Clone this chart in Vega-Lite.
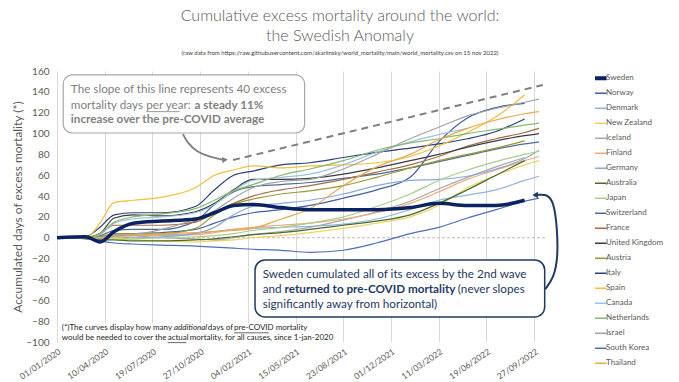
{
"$schema": "https://vega.github.io/schema/vega-lite/v6.json",
"width": 523,
"height": 271,
"padding": {"left": 11, "top": 8, "right": 5, "bottom": 5},
"background": "white",
"config": {"font": "Lato", "view": {"stroke": null}, "axis": {"labelFont": "Lato", "titleFont": "Lato"}, "axisY": {"labelOverlap": false}},
"title": {"text": ["Cumulative excess mortality around the world:", "the Swedish Anomaly"], "subtitle": "(raw data from https://raw.githubusercontent.com/akarlinsky/world_mortality/main/world_mortality.csv on 15 nov 2022)", "font": "Lato", "fontSize": 16, "fontWeight": 300, "color": "#595959", "lineHeight": 20, "subtitleFont": "Lato", "subtitleFontSize": 6, "subtitleColor": "#404040", "subtitlePadding": 6, "anchor": "middle", "frame": "group", "dx": 21.5, "offset": 10},
"datasets": {"mort": [
{"c":"Sweden","d":"2020-01-01","v":0},{"c":"Sweden","d":"2020-03-01","v":1},{"c":"Sweden","d":"2020-03-31","v":-4},{"c":"Sweden","d":"2020-04-30","v":6},{"c":"Sweden","d":"2020-06-09","v":14},{"c":"Sweden","d":"2020-08-08","v":16},{"c":"Sweden","d":"2020-10-17","v":18},{"c":"Sweden","d":"2020-11-26","v":24},{"c":"Sweden","d":"2021-01-05","v":31},{"c":"Sweden","d":"2021-02-14","v":32},{"c":"Sweden","d":"2021-04-15","v":29},{"c":"Sweden","d":"2021-06-14","v":27},{"c":"Sweden","d":"2021-08-23","v":27},{"c":"Sweden","d":"2021-11-01","v":27},{"c":"Sweden","d":"2022-01-10","v":29},{"c":"Sweden","d":"2022-03-11","v":33},{"c":"Sweden","d":"2022-05-10","v":31},{"c":"Sweden","d":"2022-07-09","v":31},{"c":"Sweden","d":"2022-09-07","v":36},
{"c":"Norway","d":"2020-01-01","v":0},{"c":"Norway","d":"2020-03-01","v":0},{"c":"Norway","d":"2020-03-31","v":-1},{"c":"Norway","d":"2020-04-30","v":2},{"c":"Norway","d":"2020-06-09","v":4},{"c":"Norway","d":"2020-08-08","v":5},{"c":"Norway","d":"2020-10-17","v":8},{"c":"Norway","d":"2020-11-26","v":14},{"c":"Norway","d":"2021-01-05","v":20},{"c":"Norway","d":"2021-02-14","v":24},{"c":"Norway","d":"2021-04-15","v":27},{"c":"Norway","d":"2021-06-14","v":31},{"c":"Norway","d":"2021-08-23","v":38},{"c":"Norway","d":"2021-11-01","v":46},{"c":"Norway","d":"2022-01-10","v":58},{"c":"Norway","d":"2022-03-11","v":92},{"c":"Norway","d":"2022-05-10","v":115},{"c":"Norway","d":"2022-07-09","v":125},{"c":"Norway","d":"2022-09-07","v":129},
{"c":"Denmark","d":"2020-01-01","v":0},{"c":"Denmark","d":"2020-03-01","v":0},{"c":"Denmark","d":"2020-03-31","v":1},{"c":"Denmark","d":"2020-04-30","v":2},{"c":"Denmark","d":"2020-06-09","v":2},{"c":"Denmark","d":"2020-08-08","v":3},{"c":"Denmark","d":"2020-10-17","v":4},{"c":"Denmark","d":"2020-11-26","v":6},{"c":"Denmark","d":"2021-01-05","v":8},{"c":"Denmark","d":"2021-02-14","v":9},{"c":"Denmark","d":"2021-04-15","v":10},{"c":"Denmark","d":"2021-06-14","v":11},{"c":"Denmark","d":"2021-08-23","v":13},{"c":"Denmark","d":"2021-11-01","v":18},{"c":"Denmark","d":"2022-01-10","v":27},{"c":"Denmark","d":"2022-03-11","v":36},{"c":"Denmark","d":"2022-05-10","v":41},{"c":"Denmark","d":"2022-07-09","v":46},{"c":"Denmark","d":"2022-09-07","v":55},{"c":"Denmark","d":"2022-10-07","v":59},
{"c":"New Zealand","d":"2020-01-01","v":0},{"c":"New Zealand","d":"2020-03-01","v":1},{"c":"New Zealand","d":"2020-03-31","v":0},{"c":"New Zealand","d":"2020-04-30","v":-1},{"c":"New Zealand","d":"2020-06-09","v":-2},{"c":"New Zealand","d":"2020-08-08","v":-3},{"c":"New Zealand","d":"2020-10-17","v":-4},{"c":"New Zealand","d":"2020-11-26","v":-3},{"c":"New Zealand","d":"2021-01-05","v":-2},{"c":"New Zealand","d":"2021-02-14","v":0},{"c":"New Zealand","d":"2021-04-15","v":2},{"c":"New Zealand","d":"2021-06-14","v":5},{"c":"New Zealand","d":"2021-08-23","v":9},{"c":"New Zealand","d":"2021-11-01","v":14},{"c":"New Zealand","d":"2022-01-10","v":20},{"c":"New Zealand","d":"2022-03-11","v":31},{"c":"New Zealand","d":"2022-05-10","v":48},{"c":"New Zealand","d":"2022-07-09","v":60},{"c":"New Zealand","d":"2022-09-07","v":70},{"c":"New Zealand","d":"2022-10-07","v":74},
{"c":"Iceland","d":"2020-01-01","v":0},{"c":"Iceland","d":"2020-03-01","v":1},{"c":"Iceland","d":"2020-03-31","v":2},{"c":"Iceland","d":"2020-04-30","v":3},{"c":"Iceland","d":"2020-06-09","v":2},{"c":"Iceland","d":"2020-08-08","v":0},{"c":"Iceland","d":"2020-10-17","v":-1},{"c":"Iceland","d":"2020-11-26","v":-2},{"c":"Iceland","d":"2021-01-05","v":0},{"c":"Iceland","d":"2021-02-14","v":3},{"c":"Iceland","d":"2021-04-15","v":6},{"c":"Iceland","d":"2021-06-14","v":10},{"c":"Iceland","d":"2021-08-23","v":17},{"c":"Iceland","d":"2021-11-01","v":25},{"c":"Iceland","d":"2022-01-10","v":35},{"c":"Iceland","d":"2022-03-11","v":47},{"c":"Iceland","d":"2022-05-10","v":58},{"c":"Iceland","d":"2022-07-09","v":68},{"c":"Iceland","d":"2022-09-07","v":77},
{"c":"Finland","d":"2020-01-01","v":0},{"c":"Finland","d":"2020-03-01","v":0},{"c":"Finland","d":"2020-03-31","v":1},{"c":"Finland","d":"2020-04-30","v":2},{"c":"Finland","d":"2020-06-09","v":3},{"c":"Finland","d":"2020-08-08","v":2},{"c":"Finland","d":"2020-10-17","v":3},{"c":"Finland","d":"2020-11-26","v":5},{"c":"Finland","d":"2021-01-05","v":8},{"c":"Finland","d":"2021-02-14","v":10},{"c":"Finland","d":"2021-04-15","v":12},{"c":"Finland","d":"2021-06-14","v":14},{"c":"Finland","d":"2021-08-23","v":18},{"c":"Finland","d":"2021-11-01","v":24},{"c":"Finland","d":"2022-01-10","v":33},{"c":"Finland","d":"2022-03-11","v":44},{"c":"Finland","d":"2022-05-10","v":56},{"c":"Finland","d":"2022-07-09","v":65},{"c":"Finland","d":"2022-09-07","v":74},{"c":"Finland","d":"2022-10-07","v":78},
{"c":"Germany","d":"2020-01-01","v":0},{"c":"Germany","d":"2020-03-01","v":0},{"c":"Germany","d":"2020-03-31","v":-1},{"c":"Germany","d":"2020-04-30","v":1},{"c":"Germany","d":"2020-06-09","v":0},{"c":"Germany","d":"2020-08-08","v":1},{"c":"Germany","d":"2020-10-17","v":4},{"c":"Germany","d":"2020-11-26","v":10},{"c":"Germany","d":"2021-01-05","v":22},{"c":"Germany","d":"2021-02-14","v":30},{"c":"Germany","d":"2021-04-15","v":33},{"c":"Germany","d":"2021-06-14","v":36},{"c":"Germany","d":"2021-08-23","v":42},{"c":"Germany","d":"2021-11-01","v":50},{"c":"Germany","d":"2022-01-10","v":55},{"c":"Germany","d":"2022-03-11","v":56},{"c":"Germany","d":"2022-05-10","v":59},{"c":"Germany","d":"2022-07-09","v":66},{"c":"Germany","d":"2022-09-07","v":76},{"c":"Germany","d":"2022-10-07","v":84},
{"c":"Australia","d":"2020-01-01","v":0},{"c":"Australia","d":"2020-03-01","v":-1},{"c":"Australia","d":"2020-03-31","v":-2},{"c":"Australia","d":"2020-04-30","v":-2},{"c":"Australia","d":"2020-06-09","v":-3},{"c":"Australia","d":"2020-08-08","v":-3},{"c":"Australia","d":"2020-10-17","v":-2},{"c":"Australia","d":"2020-11-26","v":-1},{"c":"Australia","d":"2021-01-05","v":1},{"c":"Australia","d":"2021-02-14","v":3},{"c":"Australia","d":"2021-04-15","v":5},{"c":"Australia","d":"2021-06-14","v":8},{"c":"Australia","d":"2021-08-23","v":12},{"c":"Australia","d":"2021-11-01","v":16},{"c":"Australia","d":"2022-01-10","v":22},{"c":"Australia","d":"2022-03-11","v":33},{"c":"Australia","d":"2022-05-10","v":46},{"c":"Australia","d":"2022-07-09","v":60},{"c":"Australia","d":"2022-09-07","v":74},
{"c":"Japan","d":"2020-01-01","v":0},{"c":"Japan","d":"2020-03-01","v":0},{"c":"Japan","d":"2020-03-31","v":0},{"c":"Japan","d":"2020-04-30","v":0},{"c":"Japan","d":"2020-06-09","v":-1},{"c":"Japan","d":"2020-08-08","v":0},{"c":"Japan","d":"2020-10-17","v":1},{"c":"Japan","d":"2020-11-26","v":2},{"c":"Japan","d":"2021-01-05","v":4},{"c":"Japan","d":"2021-02-14","v":7},{"c":"Japan","d":"2021-04-15","v":10},{"c":"Japan","d":"2021-06-14","v":14},{"c":"Japan","d":"2021-08-23","v":20},{"c":"Japan","d":"2021-11-01","v":30},{"c":"Japan","d":"2022-01-10","v":42},{"c":"Japan","d":"2022-03-11","v":55},{"c":"Japan","d":"2022-05-10","v":65},{"c":"Japan","d":"2022-07-09","v":73},{"c":"Japan","d":"2022-09-07","v":80},{"c":"Japan","d":"2022-10-07","v":83},
{"c":"Switzerland","d":"2020-01-01","v":0},{"c":"Switzerland","d":"2020-03-01","v":0},{"c":"Switzerland","d":"2020-03-31","v":2},{"c":"Switzerland","d":"2020-04-30","v":7},{"c":"Switzerland","d":"2020-06-09","v":8},{"c":"Switzerland","d":"2020-08-08","v":8},{"c":"Switzerland","d":"2020-10-17","v":16},{"c":"Switzerland","d":"2020-11-26","v":32},{"c":"Switzerland","d":"2021-01-05","v":44},{"c":"Switzerland","d":"2021-02-14","v":49},{"c":"Switzerland","d":"2021-04-15","v":51},{"c":"Switzerland","d":"2021-06-14","v":53},{"c":"Switzerland","d":"2021-08-23","v":57},{"c":"Switzerland","d":"2021-11-01","v":61},{"c":"Switzerland","d":"2022-01-10","v":67},{"c":"Switzerland","d":"2022-03-11","v":73},{"c":"Switzerland","d":"2022-05-10","v":79},{"c":"Switzerland","d":"2022-07-09","v":85},{"c":"Switzerland","d":"2022-09-07","v":90},{"c":"Switzerland","d":"2022-10-07","v":92},
{"c":"France","d":"2020-01-01","v":0},{"c":"France","d":"2020-03-01","v":0},{"c":"France","d":"2020-03-31","v":4},{"c":"France","d":"2020-04-30","v":12},{"c":"France","d":"2020-06-09","v":12},{"c":"France","d":"2020-08-08","v":12},{"c":"France","d":"2020-10-17","v":15},{"c":"France","d":"2020-11-26","v":24},{"c":"France","d":"2021-01-05","v":33},{"c":"France","d":"2021-02-14","v":40},{"c":"France","d":"2021-04-15","v":46},{"c":"France","d":"2021-06-14","v":50},{"c":"France","d":"2021-08-23","v":56},{"c":"France","d":"2021-11-01","v":63},{"c":"France","d":"2022-01-10","v":70},{"c":"France","d":"2022-03-11","v":78},{"c":"France","d":"2022-05-10","v":88},{"c":"France","d":"2022-07-09","v":95},{"c":"France","d":"2022-09-07","v":101},{"c":"France","d":"2022-10-07","v":105},
{"c":"United Kingdom","d":"2020-01-01","v":0},{"c":"United Kingdom","d":"2020-03-01","v":0},{"c":"United Kingdom","d":"2020-03-31","v":4},{"c":"United Kingdom","d":"2020-04-30","v":19},{"c":"United Kingdom","d":"2020-06-09","v":22},{"c":"United Kingdom","d":"2020-08-08","v":21},{"c":"United Kingdom","d":"2020-10-17","v":25},{"c":"United Kingdom","d":"2020-11-26","v":33},{"c":"United Kingdom","d":"2021-01-05","v":46},{"c":"United Kingdom","d":"2021-02-14","v":56},{"c":"United Kingdom","d":"2021-04-15","v":56},{"c":"United Kingdom","d":"2021-06-14","v":57},{"c":"United Kingdom","d":"2021-08-23","v":61},{"c":"United Kingdom","d":"2021-11-01","v":67},{"c":"United Kingdom","d":"2022-01-10","v":74},{"c":"United Kingdom","d":"2022-03-11","v":80},{"c":"United Kingdom","d":"2022-05-10","v":87},{"c":"United Kingdom","d":"2022-07-09","v":93},{"c":"United Kingdom","d":"2022-09-07","v":98},{"c":"United Kingdom","d":"2022-10-07","v":100},
{"c":"Austria","d":"2020-01-01","v":0},{"c":"Austria","d":"2020-03-01","v":0},{"c":"Austria","d":"2020-03-31","v":1},{"c":"Austria","d":"2020-04-30","v":4},{"c":"Austria","d":"2020-06-09","v":4},{"c":"Austria","d":"2020-08-08","v":4},{"c":"Austria","d":"2020-10-17","v":9},{"c":"Austria","d":"2020-11-26","v":22},{"c":"Austria","d":"2021-01-05","v":32},{"c":"Austria","d":"2021-02-14","v":37},{"c":"Austria","d":"2021-04-15","v":42},{"c":"Austria","d":"2021-06-14","v":45},{"c":"Austria","d":"2021-08-23","v":50},{"c":"Austria","d":"2021-11-01","v":58},{"c":"Austria","d":"2022-01-10","v":67},{"c":"Austria","d":"2022-03-11","v":74},{"c":"Austria","d":"2022-05-10","v":80},{"c":"Austria","d":"2022-07-09","v":86},{"c":"Austria","d":"2022-09-07","v":93},
{"c":"Italy","d":"2020-01-01","v":0},{"c":"Italy","d":"2020-03-01","v":1},{"c":"Italy","d":"2020-03-31","v":10},{"c":"Italy","d":"2020-04-30","v":22},{"c":"Italy","d":"2020-06-09","v":24},{"c":"Italy","d":"2020-08-08","v":24},{"c":"Italy","d":"2020-10-17","v":30},{"c":"Italy","d":"2020-11-26","v":46},{"c":"Italy","d":"2021-01-05","v":60},{"c":"Italy","d":"2021-02-14","v":64},{"c":"Italy","d":"2021-04-15","v":70},{"c":"Italy","d":"2021-06-14","v":72},{"c":"Italy","d":"2021-08-23","v":77},{"c":"Italy","d":"2021-11-01","v":82},{"c":"Italy","d":"2022-01-10","v":86},{"c":"Italy","d":"2022-03-11","v":90},{"c":"Italy","d":"2022-05-10","v":95},{"c":"Italy","d":"2022-07-09","v":102},{"c":"Italy","d":"2022-09-07","v":114},
{"c":"Spain","d":"2020-01-01","v":0},{"c":"Spain","d":"2020-03-01","v":0},{"c":"Spain","d":"2020-03-31","v":14},{"c":"Spain","d":"2020-04-30","v":34},{"c":"Spain","d":"2020-06-09","v":36},{"c":"Spain","d":"2020-08-08","v":39},{"c":"Spain","d":"2020-10-17","v":48},{"c":"Spain","d":"2020-11-26","v":60},{"c":"Spain","d":"2021-01-05","v":65},{"c":"Spain","d":"2021-02-14","v":69},{"c":"Spain","d":"2021-04-15","v":67},{"c":"Spain","d":"2021-06-14","v":69},{"c":"Spain","d":"2021-08-23","v":70},{"c":"Spain","d":"2021-11-01","v":72},{"c":"Spain","d":"2022-01-10","v":78},{"c":"Spain","d":"2022-03-11","v":88},{"c":"Spain","d":"2022-05-10","v":101},{"c":"Spain","d":"2022-07-09","v":116},{"c":"Spain","d":"2022-09-07","v":137},
{"c":"Canada","d":"2020-01-01","v":0},{"c":"Canada","d":"2020-03-01","v":0},{"c":"Canada","d":"2020-03-31","v":3},{"c":"Canada","d":"2020-04-30","v":14},{"c":"Canada","d":"2020-06-09","v":18},{"c":"Canada","d":"2020-08-08","v":20},{"c":"Canada","d":"2020-10-17","v":24},{"c":"Canada","d":"2020-11-26","v":32},{"c":"Canada","d":"2021-01-05","v":45},{"c":"Canada","d":"2021-02-14","v":55},{"c":"Canada","d":"2021-04-15","v":58},{"c":"Canada","d":"2021-06-14","v":61},{"c":"Canada","d":"2021-08-23","v":70},{"c":"Canada","d":"2021-11-01","v":82},{"c":"Canada","d":"2022-01-10","v":92},{"c":"Canada","d":"2022-03-11","v":99},{"c":"Canada","d":"2022-05-10","v":105},
{"c":"Netherlands","d":"2020-01-01","v":0},{"c":"Netherlands","d":"2020-03-01","v":0},{"c":"Netherlands","d":"2020-03-31","v":4},{"c":"Netherlands","d":"2020-04-30","v":15},{"c":"Netherlands","d":"2020-06-09","v":20},{"c":"Netherlands","d":"2020-08-08","v":23},{"c":"Netherlands","d":"2020-10-17","v":28},{"c":"Netherlands","d":"2020-11-26","v":36},{"c":"Netherlands","d":"2021-01-05","v":45},{"c":"Netherlands","d":"2021-02-14","v":51},{"c":"Netherlands","d":"2021-04-15","v":60},{"c":"Netherlands","d":"2021-06-14","v":66},{"c":"Netherlands","d":"2021-08-23","v":74},{"c":"Netherlands","d":"2021-11-01","v":84},{"c":"Netherlands","d":"2022-01-10","v":91},{"c":"Netherlands","d":"2022-03-11","v":95},{"c":"Netherlands","d":"2022-05-10","v":100},{"c":"Netherlands","d":"2022-07-09","v":104},{"c":"Netherlands","d":"2022-09-07","v":108},{"c":"Netherlands","d":"2022-10-07","v":110},
{"c":"Israel","d":"2020-01-01","v":0},{"c":"Israel","d":"2020-03-01","v":0},{"c":"Israel","d":"2020-03-31","v":0},{"c":"Israel","d":"2020-04-30","v":2},{"c":"Israel","d":"2020-06-09","v":3},{"c":"Israel","d":"2020-08-08","v":8},{"c":"Israel","d":"2020-10-17","v":18},{"c":"Israel","d":"2020-11-26","v":26},{"c":"Israel","d":"2021-01-05","v":38},{"c":"Israel","d":"2021-02-14","v":48},{"c":"Israel","d":"2021-04-15","v":54},{"c":"Israel","d":"2021-06-14","v":56},{"c":"Israel","d":"2021-08-23","v":66},{"c":"Israel","d":"2021-11-01","v":80},{"c":"Israel","d":"2022-01-10","v":95},{"c":"Israel","d":"2022-03-11","v":106},{"c":"Israel","d":"2022-05-10","v":117},{"c":"Israel","d":"2022-07-09","v":124},{"c":"Israel","d":"2022-09-07","v":130},{"c":"Israel","d":"2022-10-07","v":133},
{"c":"South Korea","d":"2020-01-01","v":0},{"c":"South Korea","d":"2020-03-01","v":0},{"c":"South Korea","d":"2020-03-31","v":-3},{"c":"South Korea","d":"2020-04-30","v":-5},{"c":"South Korea","d":"2020-06-09","v":-6},{"c":"South Korea","d":"2020-08-08","v":-7},{"c":"South Korea","d":"2020-10-17","v":-8},{"c":"South Korea","d":"2020-11-26","v":-9},{"c":"South Korea","d":"2021-01-05","v":-10},{"c":"South Korea","d":"2021-02-14","v":-11},{"c":"South Korea","d":"2021-04-15","v":-12},{"c":"South Korea","d":"2021-06-14","v":-14},{"c":"South Korea","d":"2021-08-23","v":-12},{"c":"South Korea","d":"2021-11-01","v":-5},{"c":"South Korea","d":"2022-01-10","v":4},{"c":"South Korea","d":"2022-03-11","v":10},{"c":"South Korea","d":"2022-05-10","v":19},{"c":"South Korea","d":"2022-07-09","v":27},{"c":"South Korea","d":"2022-09-07","v":35},{"c":"South Korea","d":"2022-10-07","v":38},
{"c":"Thailand","d":"2020-01-01","v":0},{"c":"Thailand","d":"2020-03-01","v":0},{"c":"Thailand","d":"2020-03-31","v":0},{"c":"Thailand","d":"2020-04-30","v":1},{"c":"Thailand","d":"2020-06-09","v":2},{"c":"Thailand","d":"2020-08-08","v":4},{"c":"Thailand","d":"2020-10-17","v":5},{"c":"Thailand","d":"2020-11-26","v":6},{"c":"Thailand","d":"2021-01-05","v":7},{"c":"Thailand","d":"2021-02-14","v":9},{"c":"Thailand","d":"2021-04-15","v":18},{"c":"Thailand","d":"2021-06-14","v":28},{"c":"Thailand","d":"2021-08-23","v":50},{"c":"Thailand","d":"2021-11-01","v":68},{"c":"Thailand","d":"2022-01-10","v":80},{"c":"Thailand","d":"2022-03-11","v":94},{"c":"Thailand","d":"2022-05-10","v":105},{"c":"Thailand","d":"2022-07-09","v":113},{"c":"Thailand","d":"2022-09-07","v":119},{"c":"Thailand","d":"2022-10-07","v":121}
]},
"layer": [
{"data": {"values": [{}]}, "mark": {"type": "rule", "color": "#c9b3b3", "strokeWidth": 1, "strokeDash": [3, 2]},
 "encoding": {"x": {"datum": {"year": 2020, "month": 1, "date": 1, "utc": true}, "type": "temporal"}, "x2": {"datum": {"year": 2022, "month": 10, "date": 20, "utc": true}}, "y": {"datum": 0}}},
{"data": {"name": "mort"}, "transform": [{"filter": "datum.c !== 'Sweden'"}],
 "mark": {"type": "line", "interpolate": "monotone", "strokeWidth": 1.2},
 "encoding": {
  "x": {"field": "d", "type": "temporal", "title": null,
   "scale": {"type": "utc", "domain": [{"year": 2020, "month": 1, "date": 1, "utc": true}, {"year": 2023, "month": 1, "date": 1, "utc": true}]},
   "axis": {"values": [{"year": 2020, "month": 1, "date": 1, "utc": true}, {"year": 2020, "month": 4, "date": 10, "utc": true}, {"year": 2020, "month": 7, "date": 19, "utc": true}, {"year": 2020, "month": 10, "date": 27, "utc": true}, {"year": 2021, "month": 2, "date": 4, "utc": true}, {"year": 2021, "month": 5, "date": 15, "utc": true}, {"year": 2021, "month": 8, "date": 23, "utc": true}, {"year": 2021, "month": 12, "date": 1, "utc": true}, {"year": 2022, "month": 3, "date": 11, "utc": true}, {"year": 2022, "month": 6, "date": 19, "utc": true}, {"year": 2022, "month": 9, "date": 27, "utc": true}],
    "format": "%d/%m/%Y", "labelAngle": -34, "labelFontSize": 8.5, "labelColor": "#595959", "labelPadding": 5, "domain": false, "ticks": false, "grid": true, "gridColor": "#d9d9d9", "labelFlush": false, "labelOverlap": false}},
  "y": {"field": "v", "type": "quantitative", "title": "Accumulated days of excess mortality (*)",
   "scale": {"domain": [-100, 160], "nice": false, "zero": false},
   "axis": {"values": [-100, -80, -60, -40, -20, 0, 20, 40, 60, 80, 100, 120, 140, 160], "tickCount": 14, "labelOverlap": false, "labelFlush": false, "labelFontSize": 10, "labelColor": "#595959", "labelPadding": 8, "domain": false, "ticks": false, "gridColor": "#d9d9d9", "titleFontSize": 12, "titleFontWeight": "normal", "titleColor": "#595959", "titlePadding": 1}},
  "color": {"field": "c", "type": "nominal",
   "scale": {"domain": ["Sweden", "Norway", "Denmark", "New Zealand", "Iceland", "Finland", "Germany", "Australia", "Japan", "Switzerland", "France", "United Kingdom", "Austria", "Italy", "Spain", "Canada", "Netherlands", "Israel", "South Korea", "Thailand"],
    "range": ["#0b2361", "#3f5fa6", "#8fb4e0", "#f3d35f", "#a9a9a9", "#f2a877", "#8da7d9", "#4a6a2a", "#a6cf8a", "#4e6b96", "#a46c47", "#3b3b45", "#9a9a35", "#2d3e7e", "#f4bf3a", "#9cc2e6", "#86bb68", "#a3a3a3", "#4d6fc2", "#e9a94b"]},
   "legend": {"orient": "none", "legendX": 538, "legendY": 1, "title": null, "symbolType": "stroke", "symbolSize": 230, "symbolStrokeWidth": 1.5, "labelFontSize": 8, "labelColor": "#595959", "labelFont": "Lato", "clipHeight": 12.5, "rowPadding": 2, "labelOffset": 3,
    "encode": {"symbols": {"update": {"strokeWidth": {"signal": "datum.value === 'Sweden' ? 4 : 1.5"}}}}}}
 }},
{"data": {"name": "mort"}, "transform": [{"filter": "datum.c === 'Sweden'"}],
 "mark": {"type": "line", "interpolate": "monotone", "strokeWidth": 3.5},
 "encoding": {"x": {"field": "d", "type": "temporal"}, "y": {"field": "v", "type": "quantitative"}, "color": {"field": "c", "type": "nominal"}}},
{"data": {"values": [{}]},
 "layer": [
  {"mark": {"type": "rule", "color": "#7f7f7f", "strokeWidth": 2, "strokeDash": [7, 5]},
   "encoding": {"x": {"datum": {"year": 2021, "month": 1, "date": 4, "utc": true}, "type": "temporal"}, "x2": {"datum": {"year": 2022, "month": 10, "date": 15, "utc": true}}, "y": {"datum": 74.6}, "y2": {"datum": 146.6}}},
  {"mark": {"type": "rect", "fill": "white", "stroke": "#a6a6a6", "strokeWidth": 1.2, "cornerRadius": 9},
   "encoding": {"x": {"datum": {"year": 2020, "month": 1, "date": 14, "utc": true}, "type": "temporal"}, "x2": {"datum": {"year": 2021, "month": 6, "date": 3, "utc": true}}, "y": {"datum": 156.2}, "y2": {"datum": 100.5}}},
  {"mark": {"type": "text", "text": "The slope of this line represents 40 excess", "align": "left", "baseline": "middle", "font": "Lato", "fontSize": 11.7, "color": "#7f7f7f"},
   "encoding": {"x": {"datum": {"year": 2020, "month": 1, "date": 30, "utc": true}, "type": "temporal"}, "y": {"datum": 142.7}}},
  {"mark": {"type": "text", "text": "mortality days", "align": "left", "baseline": "middle", "font": "Lato", "fontSize": 11.7, "color": "#7f7f7f"},
   "encoding": {"x": {"datum": {"year": 2020, "month": 1, "date": 30, "utc": true}, "type": "temporal"}, "y": {"datum": 127.4}}},
  {"mark": {"type": "text", "text": "per year:", "align": "left", "baseline": "middle", "font": "Lato", "fontSize": 11.7, "color": "#7f7f7f"},
   "encoding": {"x": {"datum": {"year": 2020, "month": 7, "date": 6, "utc": true}, "type": "temporal"}, "y": {"datum": 127.4}}},
  {"mark": {"type": "rule", "color": "#7f7f7f", "strokeWidth": 0.8},
   "encoding": {"x": {"datum": {"year": 2020, "month": 7, "date": 6, "utc": true}, "type": "temporal"}, "x2": {"datum": {"year": 2020, "month": 9, "date": 14, "utc": true}}, "y": {"datum": 121}}},
  {"mark": {"type": "text", "text": "a steady 11%", "align": "left", "baseline": "middle", "font": "Lato", "fontSize": 11.7, "fontWeight": "bold", "color": "#7f7f7f"},
   "encoding": {"x": {"datum": {"year": 2020, "month": 10, "date": 15, "utc": true}, "type": "temporal"}, "y": {"datum": 127.4}}},
  {"mark": {"type": "text", "text": "increase over the pre-COVID average", "align": "left", "baseline": "middle", "font": "Lato", "fontSize": 11.7, "fontWeight": "bold", "color": "#7f7f7f"},
   "encoding": {"x": {"datum": {"year": 2020, "month": 1, "date": 30, "utc": true}, "type": "temporal"}, "y": {"datum": 114}}},
  {"mark": {"type": "point", "shape": "triangle-right", "filled": true, "size": 40, "color": "#7f7f7f", "opacity": 1, "angle": -6},
   "encoding": {"x": {"datum": {"year": 2020, "month": 12, "date": 18, "utc": true}, "type": "temporal"}, "y": {"datum": 74.8}}},
  {"mark": {"type": "rect", "fill": "white", "stroke": "#1f3864", "strokeWidth": 1.5, "cornerRadius": 10},
   "encoding": {"x": {"datum": {"year": 2021, "month": 2, "date": 19, "utc": true}, "type": "temporal"}, "x2": {"datum": {"year": 2022, "month": 10, "date": 19, "utc": true}}, "y": {"datum": -21.3}, "y2": {"datum": -76}}},
  {"mark": {"type": "text", "text": "Sweden cumulated all of its excess by the 2nd wave", "align": "left", "baseline": "middle", "font": "Lato", "fontSize": 11.7, "color": "#1f3864"},
   "encoding": {"x": {"datum": {"year": 2021, "month": 3, "date": 7, "utc": true}, "type": "temporal"}, "y": {"datum": -34.7}}},
  {"mark": {"type": "text", "text": "and", "align": "left", "baseline": "middle", "font": "Lato", "fontSize": 11.7, "color": "#1f3864"},
   "encoding": {"x": {"datum": {"year": 2021, "month": 3, "date": 7, "utc": true}, "type": "temporal"}, "y": {"datum": -49.1}}},
  {"mark": {"type": "text", "text": "returned to pre-COVID mortality", "align": "left", "baseline": "middle", "font": "Lato", "fontSize": 11.7, "fontWeight": "bold", "color": "#1f3864"},
   "encoding": {"x": {"datum": {"year": 2021, "month": 4, "date": 22, "utc": true}, "type": "temporal"}, "y": {"datum": -49.1}}},
  {"mark": {"type": "text", "text": "(never slopes", "align": "left", "baseline": "middle", "font": "Lato", "fontSize": 11.7, "color": "#1f3864"},
   "encoding": {"x": {"datum": {"year": 2022, "month": 4, "date": 20, "utc": true}, "type": "temporal"}, "y": {"datum": -49.1}}},
  {"mark": {"type": "text", "text": "significantly away from horizontal)", "align": "left", "baseline": "middle", "font": "Lato", "fontSize": 11.7, "color": "#1f3864"},
   "encoding": {"x": {"datum": {"year": 2021, "month": 3, "date": 7, "utc": true}, "type": "temporal"}, "y": {"datum": -63.5}}},
  {"mark": {"type": "point", "shape": "triangle-left", "filled": true, "size": 40, "color": "#1f3864", "opacity": 1},
   "encoding": {"x": {"datum": {"year": 2022, "month": 9, "date": 29, "utc": true}, "type": "temporal"}, "y": {"datum": 41}}},
  {"mark": {"type": "rect", "fill": "white"},
   "encoding": {"x": {"datum": {"year": 2020, "month": 1, "date": 3, "utc": true}, "type": "temporal"}, "x2": {"datum": {"year": 2021, "month": 8, "date": 8, "utc": true}}, "y": {"datum": -81.5}, "y2": {"datum": -100}}},
  {"mark": {"type": "text", "text": "(*)The curves display how many", "align": "left", "baseline": "middle", "font": "Lato", "fontSize": 8, "color": "#262626"},
   "encoding": {"x": {"datum": {"year": 2020, "month": 1, "date": 11, "utc": true}, "type": "temporal"}, "y": {"datum": -86.5}}},
  {"mark": {"type": "text", "text": "additional", "align": "left", "baseline": "middle", "font": "Lato", "fontSize": 8, "fontStyle": "italic", "color": "#262626"},
   "encoding": {"x": {"datum": {"year": 2020, "month": 9, "date": 2, "utc": true}, "type": "temporal"}, "y": {"datum": -86.5}}},
  {"mark": {"type": "text", "text": "days of", "align": "left", "baseline": "middle", "font": "Lato", "fontSize": 8, "color": "#262626"},
   "encoding": {"x": {"datum": {"year": 2020, "month": 11, "date": 12, "utc": true}, "type": "temporal"}, "y": {"datum": -86.5}}},
  {"mark": {"type": "text", "text": "pre-COVID mortality", "align": "left", "baseline": "middle", "font": "Lato", "fontSize": 8, "color": "#262626"},
   "encoding": {"x": {"datum": {"year": 2021, "month": 1, "date": 6, "utc": true}, "type": "temporal"}, "y": {"datum": -86.5}}},
  {"mark": {"type": "rule", "color": "#262626", "strokeWidth": 0.7},
   "encoding": {"x": {"datum": {"year": 2021, "month": 1, "date": 6, "utc": true}, "type": "temporal"}, "x2": {"datum": {"year": 2021, "month": 3, "date": 20, "utc": true}}, "y": {"datum": -91.2}}},
  {"mark": {"type": "text", "text": "would be needed to cover the", "align": "left", "baseline": "middle", "font": "Lato", "fontSize": 8, "color": "#262626"},
   "encoding": {"x": {"datum": {"year": 2020, "month": 1, "date": 11, "utc": true}, "type": "temporal"}, "y": {"datum": -96}}},
  {"mark": {"type": "text", "text": "actual", "align": "left", "baseline": "middle", "font": "Lato", "fontSize": 8, "color": "#262626"},
   "encoding": {"x": {"datum": {"year": 2020, "month": 8, "date": 20, "utc": true}, "type": "temporal"}, "y": {"datum": -96}}},
  {"mark": {"type": "rule", "color": "#262626", "strokeWidth": 0.7},
   "encoding": {"x": {"datum": {"year": 2020, "month": 8, "date": 20, "utc": true}, "type": "temporal"}, "x2": {"datum": {"year": 2020, "month": 9, "date": 28, "utc": true}}, "y": {"datum": -100.6}}},
  {"mark": {"type": "text", "text": "mortality, for all causes, since 1-jan-2020", "align": "left", "baseline": "middle", "font": "Lato", "fontSize": 8, "color": "#262626"},
   "encoding": {"x": {"datum": {"year": 2020, "month": 10, "date": 5, "utc": true}, "type": "temporal"}, "y": {"datum": -96}}}
 ]},
{"data": {"values": [{"d": "2020-09-21", "v": 99.5, "o": 1}, {"d": "2020-09-29", "v": 91.9, "o": 2}, {"d": "2020-10-20", "v": 82.3, "o": 3}, {"d": "2020-11-17", "v": 77.5, "o": 4}, {"d": "2020-12-14", "v": 74.8, "o": 5}]},
 "mark": {"type": "line", "interpolate": "basis", "color": "#7f7f7f", "strokeWidth": 1.8},
 "encoding": {"x": {"field": "d", "type": "temporal"}, "y": {"field": "v", "type": "quantitative"}, "order": {"field": "o"}}},
{"data": {"values": [{"d": "2022-10-20", "v": -49.3, "o": 1}, {"d": "2022-11-07", "v": -38.7, "o": 2}, {"d": "2022-11-16", "v": -18.5, "o": 3}, {"d": "2022-11-14", "v": 10.4, "o": 4}, {"d": "2022-11-07", "v": 34.3, "o": 5}, {"d": "2022-10-24", "v": 42, "o": 6}, {"d": "2022-10-03", "v": 41, "o": 7}]},
 "mark": {"type": "line", "interpolate": "basis", "color": "#1f3864", "strokeWidth": 2},
 "encoding": {"x": {"field": "d", "type": "temporal"}, "y": {"field": "v", "type": "quantitative"}, "order": {"field": "o"}}}
]
}
